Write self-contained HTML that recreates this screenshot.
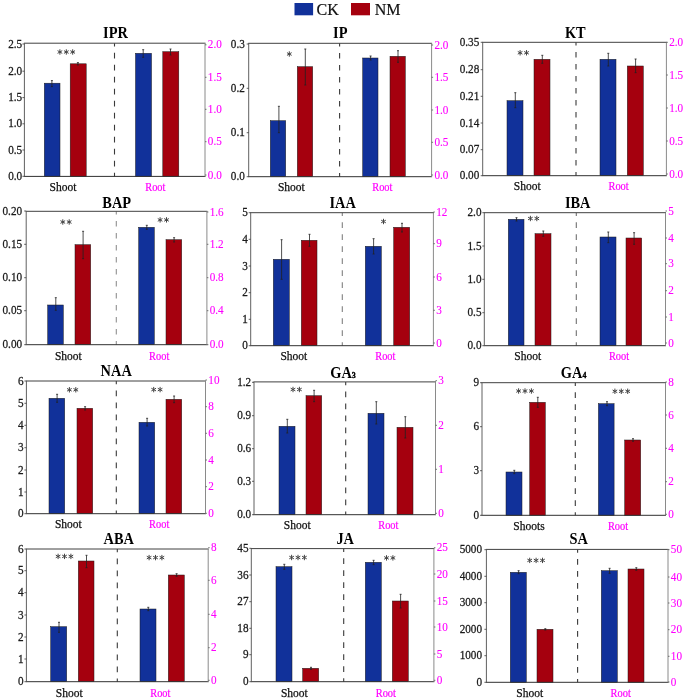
<!DOCTYPE html>
<html><head><meta charset="utf-8"><title>Hormone bar charts</title>
<style>
html,body{margin:0;padding:0;background:#fff;}
body{width:685px;height:700px;overflow:hidden;}
svg{display:block;font-family:"Liberation Serif",serif;will-change:transform;}
.t{font-size:11.2px;fill:#1a1a1a;stroke:#1a1a1a;stroke-width:0.25px;}
.m{font-size:11.2px;fill:#ff00ff;stroke:#ff00ff;stroke-width:0.1px;}
.x{font-size:11.5px;fill:#111;stroke:#111;stroke-width:0.25px;}
.xm{font-size:10.4px;fill:#ff00ff;stroke:#ff00ff;stroke-width:0.2px;}
.h{font-size:14.4px;font-weight:bold;fill:#000;}
.s{font-size:12.5px;fill:#333;}
</style></head><body>
<svg width="685" height="700" viewBox="0 0 685 700">
<rect width="685" height="700" fill="#fff"/>
<rect x="294.5" y="3" width="18.6" height="12.3" fill="#11319a"/>
<text x="316.6" y="14.8" style="font-size:16px;fill:#111;stroke:#111;stroke-width:0.2px">CK</text>
<rect x="351" y="3" width="19" height="12.3" fill="#a5000e"/>
<text x="374.8" y="14.8" style="font-size:16px;fill:#111;stroke:#111;stroke-width:0.2px">NM</text>
<g>
<text class="h" transform="translate(115.5 37.9) scale(1 1.1)" text-anchor="middle">IPR</text>
<rect x="44.3" y="83.2" width="15.7" height="93.2" fill="#11319a" stroke="#1a1a1a" stroke-width="0.5"/>
<rect x="70.2" y="63.8" width="16" height="112.6" fill="#a5000e" stroke="#1a1a1a" stroke-width="0.5"/>
<rect x="135.5" y="53.3" width="16" height="123.1" fill="#11319a" stroke="#1a1a1a" stroke-width="0.5"/>
<rect x="162.8" y="51.7" width="16" height="124.7" fill="#a5000e" stroke="#1a1a1a" stroke-width="0.5"/>
<path d="M51.9 80.6V86.6M50.9 80.6H52.9M50.9 86.6H52.9" stroke="#222" stroke-width="0.8" fill="none"/>
<path d="M77.9 62.6V65M76.9 62.6H78.9M76.9 65H78.9" stroke="#222" stroke-width="0.8" fill="none"/>
<path d="M143.2 49.7V57.3M142.2 49.7H144.2M142.2 57.3H144.2" stroke="#222" stroke-width="0.8" fill="none"/>
<path d="M170.5 49V55M169.5 49H171.5M169.5 55H171.5" stroke="#222" stroke-width="0.8" fill="none"/>
<line x1="114.5" y1="43.2" x2="114.5" y2="176.4" stroke="#3a3a3a" stroke-width="1.1" stroke-dasharray="5.7 6.3" stroke-dashoffset="2.4"/>
<path d="M23.9 43.2H205.5" stroke="#404040" stroke-width="1" fill="none"/>
<path d="M23.9 176.4H205.5" stroke="#303030" stroke-width="1" fill="none"/>
<path d="M24.4 43.2V176.4" stroke="#606060" stroke-width="1" fill="none"/>
<path d="M205 43.2V176.4" stroke="#8a8a8a" stroke-width="1" fill="none"/>
<line x1="22.4" y1="44" x2="24.4" y2="44" stroke="#3a3a3a" stroke-width="0.8"/>
<text class="t" transform="translate(22.2 47.64) scale(1 1.12)" text-anchor="end">2.5</text>
<line x1="22.4" y1="71.2" x2="24.4" y2="71.2" stroke="#3a3a3a" stroke-width="0.8"/>
<text class="t" transform="translate(22.2 74.84) scale(1 1.12)" text-anchor="end">2.0</text>
<line x1="22.4" y1="97.6" x2="24.4" y2="97.6" stroke="#3a3a3a" stroke-width="0.8"/>
<text class="t" transform="translate(22.2 101.24) scale(1 1.12)" text-anchor="end">1.5</text>
<line x1="22.4" y1="123.8" x2="24.4" y2="123.8" stroke="#3a3a3a" stroke-width="0.8"/>
<text class="t" transform="translate(22.2 127.44) scale(1 1.12)" text-anchor="end">1.0</text>
<line x1="22.4" y1="150" x2="24.4" y2="150" stroke="#3a3a3a" stroke-width="0.8"/>
<text class="t" transform="translate(22.2 153.64) scale(1 1.12)" text-anchor="end">0.5</text>
<line x1="22.4" y1="176.3" x2="24.4" y2="176.3" stroke="#3a3a3a" stroke-width="0.8"/>
<text class="t" transform="translate(22.2 179.94) scale(1 1.12)" text-anchor="end">0.0</text>
<line x1="205" y1="44.8" x2="206.5" y2="44.8" stroke="#555" stroke-width="0.8"/>
<text class="m" transform="translate(207.8 48.44) scale(1 1.12)">2.0</text>
<line x1="205" y1="77.3" x2="206.5" y2="77.3" stroke="#555" stroke-width="0.8"/>
<text class="m" transform="translate(207.8 80.94) scale(1 1.12)">1.5</text>
<line x1="205" y1="109.3" x2="206.5" y2="109.3" stroke="#555" stroke-width="0.8"/>
<text class="m" transform="translate(207.8 112.94) scale(1 1.12)">1.0</text>
<line x1="205" y1="141.7" x2="206.5" y2="141.7" stroke="#555" stroke-width="0.8"/>
<text class="m" transform="translate(207.8 145.34) scale(1 1.12)">0.5</text>
<line x1="205" y1="175" x2="206.5" y2="175" stroke="#555" stroke-width="0.8"/>
<text class="m" transform="translate(207.8 178.64) scale(1 1.12)">0.0</text>
<path d="M59.9 49.7V54.3M57.91 50.85L61.89 53.15M57.91 53.15L61.89 50.85M66.3 49.7V54.3M64.31 50.85L68.29 53.15M64.31 53.15L68.29 50.85M72.7 49.7V54.3M70.71 50.85L74.69 53.15M70.71 53.15L74.69 50.85" stroke="#444" stroke-width="1" stroke-linecap="round" fill="none"/>
<text class="x" transform="translate(63 190.8) scale(1 1)" text-anchor="middle">Shoot</text>
<text class="xm" transform="translate(155.3 190.8) scale(1 1.2)" text-anchor="middle">Root</text>
</g>
<g>
<text class="h" transform="translate(340.3 38.3) scale(1 1.1)" text-anchor="middle">IP</text>
<rect x="270.3" y="120.7" width="15.4" height="56" fill="#11319a" stroke="#1a1a1a" stroke-width="0.5"/>
<rect x="297.3" y="66.7" width="15.4" height="110" fill="#a5000e" stroke="#1a1a1a" stroke-width="0.5"/>
<rect x="362.7" y="58" width="15.3" height="118.7" fill="#11319a" stroke="#1a1a1a" stroke-width="0.5"/>
<rect x="390" y="56.3" width="15.3" height="120.4" fill="#a5000e" stroke="#1a1a1a" stroke-width="0.5"/>
<path d="M278.9 106.3V132.7M277.9 106.3H279.9M277.9 132.7H279.9" stroke="#222" stroke-width="0.8" fill="none"/>
<path d="M305.3 49V85M304.3 49H306.3M304.3 85H306.3" stroke="#222" stroke-width="0.8" fill="none"/>
<path d="M370.6 56V60M369.6 56H371.6M369.6 60H371.6" stroke="#222" stroke-width="0.8" fill="none"/>
<path d="M398 50.7V62.3M397 50.7H399M397 62.3H399" stroke="#222" stroke-width="0.8" fill="none"/>
<line x1="339.6" y1="43.3" x2="339.6" y2="176.7" stroke="#3a3a3a" stroke-width="1.1" stroke-dasharray="5.7 6.3" stroke-dashoffset="2.4"/>
<path d="M248.2 43.3H432.1" stroke="#404040" stroke-width="1" fill="none"/>
<path d="M248.2 176.7H432.1" stroke="#303030" stroke-width="1" fill="none"/>
<path d="M248.7 43.3V176.7" stroke="#606060" stroke-width="1" fill="none"/>
<path d="M431.6 43.3V176.7" stroke="#8a8a8a" stroke-width="1" fill="none"/>
<line x1="246.7" y1="44" x2="248.7" y2="44" stroke="#3a3a3a" stroke-width="0.8"/>
<text class="t" transform="translate(244.8 47.64) scale(1 1.12)" text-anchor="end">0.3</text>
<line x1="246.7" y1="88.3" x2="248.7" y2="88.3" stroke="#3a3a3a" stroke-width="0.8"/>
<text class="t" transform="translate(244.8 91.94) scale(1 1.12)" text-anchor="end">0.2</text>
<line x1="246.7" y1="132.7" x2="248.7" y2="132.7" stroke="#3a3a3a" stroke-width="0.8"/>
<text class="t" transform="translate(244.8 136.34) scale(1 1.12)" text-anchor="end">0.1</text>
<line x1="246.7" y1="176.7" x2="248.7" y2="176.7" stroke="#3a3a3a" stroke-width="0.8"/>
<text class="t" transform="translate(244.8 180.34) scale(1 1.12)" text-anchor="end">0.0</text>
<line x1="431.6" y1="45" x2="433.1" y2="45" stroke="#555" stroke-width="0.8"/>
<text class="m" transform="translate(434.4 48.64) scale(1 1.12)">2.0</text>
<line x1="431.6" y1="77.3" x2="433.1" y2="77.3" stroke="#555" stroke-width="0.8"/>
<text class="m" transform="translate(434.4 80.94) scale(1 1.12)">1.5</text>
<line x1="431.6" y1="110" x2="433.1" y2="110" stroke="#555" stroke-width="0.8"/>
<text class="m" transform="translate(434.4 113.64) scale(1 1.12)">1.0</text>
<line x1="431.6" y1="142.3" x2="433.1" y2="142.3" stroke="#555" stroke-width="0.8"/>
<text class="m" transform="translate(434.4 145.94) scale(1 1.12)">0.5</text>
<line x1="431.6" y1="175" x2="433.1" y2="175" stroke="#555" stroke-width="0.8"/>
<text class="m" transform="translate(434.4 178.64) scale(1 1.12)">0.0</text>
<path d="M289.3 51.7V56.3M287.31 52.85L291.29 55.15M287.31 55.15L291.29 52.85" stroke="#444" stroke-width="1" stroke-linecap="round" fill="none"/>
<text class="x" transform="translate(291.3 190.7) scale(1 1)" text-anchor="middle">Shoot</text>
<text class="xm" transform="translate(382.3 190.7) scale(1 1.2)" text-anchor="middle">Root</text>
</g>
<g>
<text class="h" transform="translate(575.3 37.7) scale(1 1.1)" text-anchor="middle">KT</text>
<rect x="507" y="100.7" width="16" height="75" fill="#11319a" stroke="#1a1a1a" stroke-width="0.5"/>
<rect x="534" y="59.3" width="16" height="116.4" fill="#a5000e" stroke="#1a1a1a" stroke-width="0.5"/>
<rect x="600" y="59.3" width="16" height="116.4" fill="#11319a" stroke="#1a1a1a" stroke-width="0.5"/>
<rect x="627.3" y="66" width="16" height="109.7" fill="#a5000e" stroke="#1a1a1a" stroke-width="0.5"/>
<path d="M515.3 92.7V107.7M514.3 92.7H516.3M514.3 107.7H516.3" stroke="#222" stroke-width="0.8" fill="none"/>
<path d="M542.3 55.3V63.3M541.3 55.3H543.3M541.3 63.3H543.3" stroke="#222" stroke-width="0.8" fill="none"/>
<path d="M608.3 53.3V66M607.3 53.3H609.3M607.3 66H609.3" stroke="#222" stroke-width="0.8" fill="none"/>
<path d="M635.6 59V72.7M634.6 59H636.6M634.6 72.7H636.6" stroke="#222" stroke-width="0.8" fill="none"/>
<line x1="576" y1="42.3" x2="576" y2="175.7" stroke="#3a3a3a" stroke-width="1.1" stroke-dasharray="5.7 6.3" stroke-dashoffset="2.4"/>
<path d="M482.2 42.3H666.9" stroke="#404040" stroke-width="1" fill="none"/>
<path d="M482.2 175.7H666.9" stroke="#303030" stroke-width="1" fill="none"/>
<path d="M482.7 42.3V175.7" stroke="#606060" stroke-width="1" fill="none"/>
<path d="M666.4 42.3V175.7" stroke="#8a8a8a" stroke-width="1" fill="none"/>
<line x1="480.7" y1="42.3" x2="482.7" y2="42.3" stroke="#3a3a3a" stroke-width="0.8"/>
<text class="t" transform="translate(479.3 45.94) scale(1 1.12)" text-anchor="end">0.35</text>
<line x1="480.7" y1="69.7" x2="482.7" y2="69.7" stroke="#3a3a3a" stroke-width="0.8"/>
<text class="t" transform="translate(479.3 73.34) scale(1 1.12)" text-anchor="end">0.28</text>
<line x1="480.7" y1="96.3" x2="482.7" y2="96.3" stroke="#3a3a3a" stroke-width="0.8"/>
<text class="t" transform="translate(479.3 99.94) scale(1 1.12)" text-anchor="end">0.21</text>
<line x1="480.7" y1="123" x2="482.7" y2="123" stroke="#3a3a3a" stroke-width="0.8"/>
<text class="t" transform="translate(479.3 126.64) scale(1 1.12)" text-anchor="end">0.14</text>
<line x1="480.7" y1="149.7" x2="482.7" y2="149.7" stroke="#3a3a3a" stroke-width="0.8"/>
<text class="t" transform="translate(479.3 153.34) scale(1 1.12)" text-anchor="end">0.07</text>
<line x1="480.7" y1="175.7" x2="482.7" y2="175.7" stroke="#3a3a3a" stroke-width="0.8"/>
<text class="t" transform="translate(479.3 179.34) scale(1 1.12)" text-anchor="end">0.00</text>
<line x1="666.4" y1="42.3" x2="667.9" y2="42.3" stroke="#555" stroke-width="0.8"/>
<text class="m" transform="translate(669.2 45.94) scale(1 1.12)">2.0</text>
<line x1="666.4" y1="75" x2="667.9" y2="75" stroke="#555" stroke-width="0.8"/>
<text class="m" transform="translate(669.2 78.64) scale(1 1.12)">1.5</text>
<line x1="666.4" y1="108" x2="667.9" y2="108" stroke="#555" stroke-width="0.8"/>
<text class="m" transform="translate(669.2 111.64) scale(1 1.12)">1.0</text>
<line x1="666.4" y1="141" x2="667.9" y2="141" stroke="#555" stroke-width="0.8"/>
<text class="m" transform="translate(669.2 144.64) scale(1 1.12)">0.5</text>
<line x1="666.4" y1="174" x2="667.9" y2="174" stroke="#555" stroke-width="0.8"/>
<text class="m" transform="translate(669.2 177.64) scale(1 1.12)">0.0</text>
<path d="M520.1 50.5V55.1M518.11 51.65L522.09 53.95M518.11 53.95L522.09 51.65M526.5 50.5V55.1M524.51 51.65L528.49 53.95M524.51 53.95L528.49 51.65" stroke="#444" stroke-width="1" stroke-linecap="round" fill="none"/>
<text class="x" transform="translate(527.2 189.9) scale(1 1)" text-anchor="middle">Shoot</text>
<text class="xm" transform="translate(618.6 189.9) scale(1 1.2)" text-anchor="middle">Root</text>
</g>
<g>
<text class="h" transform="translate(116.7 208) scale(1 1.1)" text-anchor="middle">BAP</text>
<rect x="47.7" y="305" width="15.6" height="39.7" fill="#11319a" stroke="#1a1a1a" stroke-width="0.5"/>
<rect x="75" y="244.7" width="15.7" height="100" fill="#a5000e" stroke="#1a1a1a" stroke-width="0.5"/>
<rect x="138.7" y="227.3" width="15.6" height="117.4" fill="#11319a" stroke="#1a1a1a" stroke-width="0.5"/>
<rect x="166" y="239.7" width="15.7" height="105" fill="#a5000e" stroke="#1a1a1a" stroke-width="0.5"/>
<path d="M55.8 297.7V310.3M54.8 297.7H56.8M54.8 310.3H56.8" stroke="#222" stroke-width="0.8" fill="none"/>
<path d="M83.1 231.3V258.7M82.1 231.3H84.1M82.1 258.7H84.1" stroke="#222" stroke-width="0.8" fill="none"/>
<path d="M146.8 225.3V229.3M145.8 225.3H147.8M145.8 229.3H147.8" stroke="#222" stroke-width="0.8" fill="none"/>
<path d="M174.1 237.7V242M173.1 237.7H175.1M173.1 242H175.1" stroke="#222" stroke-width="0.8" fill="none"/>
<line x1="116.3" y1="211.3" x2="116.3" y2="344.7" stroke="#909090" stroke-width="1.1" stroke-dasharray="5.7 6.3" stroke-dashoffset="2.4"/>
<path d="M25.7 211.3H207.4" stroke="#404040" stroke-width="1" fill="none"/>
<path d="M25.7 344.7H207.4" stroke="#303030" stroke-width="1" fill="none"/>
<path d="M26.2 211.3V344.7" stroke="#606060" stroke-width="1" fill="none"/>
<path d="M206.9 211.3V344.7" stroke="#8a8a8a" stroke-width="1" fill="none"/>
<line x1="24.2" y1="211" x2="26.2" y2="211" stroke="#3a3a3a" stroke-width="0.8"/>
<text class="t" transform="translate(22.1 214.64) scale(1 1.12)" text-anchor="end">0.20</text>
<line x1="24.2" y1="244.3" x2="26.2" y2="244.3" stroke="#3a3a3a" stroke-width="0.8"/>
<text class="t" transform="translate(22.1 247.94) scale(1 1.12)" text-anchor="end">0.15</text>
<line x1="24.2" y1="277.7" x2="26.2" y2="277.7" stroke="#3a3a3a" stroke-width="0.8"/>
<text class="t" transform="translate(22.1 281.34) scale(1 1.12)" text-anchor="end">0.10</text>
<line x1="24.2" y1="310.7" x2="26.2" y2="310.7" stroke="#3a3a3a" stroke-width="0.8"/>
<text class="t" transform="translate(22.1 314.34) scale(1 1.12)" text-anchor="end">0.05</text>
<line x1="24.2" y1="344.7" x2="26.2" y2="344.7" stroke="#3a3a3a" stroke-width="0.8"/>
<text class="t" transform="translate(22.1 348.34) scale(1 1.12)" text-anchor="end">0.00</text>
<line x1="206.9" y1="212" x2="208.4" y2="212" stroke="#555" stroke-width="0.8"/>
<text class="m" transform="translate(209.7 215.64) scale(1 1.12)">1.6</text>
<line x1="206.9" y1="244.3" x2="208.4" y2="244.3" stroke="#555" stroke-width="0.8"/>
<text class="m" transform="translate(209.7 247.94) scale(1 1.12)">1.2</text>
<line x1="206.9" y1="277.7" x2="208.4" y2="277.7" stroke="#555" stroke-width="0.8"/>
<text class="m" transform="translate(209.7 281.34) scale(1 1.12)">0.8</text>
<line x1="206.9" y1="310.7" x2="208.4" y2="310.7" stroke="#555" stroke-width="0.8"/>
<text class="m" transform="translate(209.7 314.34) scale(1 1.12)">0.4</text>
<line x1="206.9" y1="344.7" x2="208.4" y2="344.7" stroke="#555" stroke-width="0.8"/>
<text class="m" transform="translate(209.7 348.34) scale(1 1.12)">0.0</text>
<path d="M62.8 219.7V224.3M60.81 220.85L64.79 223.15M60.81 223.15L64.79 220.85M69.2 219.7V224.3M67.21 220.85L71.19 223.15M67.21 223.15L71.19 220.85" stroke="#444" stroke-width="1" stroke-linecap="round" fill="none"/>
<path d="M160.1 217.6V222.2M158.11 218.75L162.09 221.05M158.11 221.05L162.09 218.75M166.5 217.6V222.2M164.51 218.75L168.49 221.05M164.51 221.05L168.49 218.75" stroke="#444" stroke-width="1" stroke-linecap="round" fill="none"/>
<text class="x" transform="translate(68.3 359.7) scale(1 1)" text-anchor="middle">Shoot</text>
<text class="xm" transform="translate(159.2 359.7) scale(1 1.2)" text-anchor="middle">Root</text>
</g>
<g>
<text class="h" transform="translate(342.6 208) scale(1 1.1)" text-anchor="middle">IAA</text>
<rect x="273.3" y="259.3" width="16" height="86.4" fill="#11319a" stroke="#1a1a1a" stroke-width="0.5"/>
<rect x="301.3" y="240.3" width="15.7" height="105.4" fill="#a5000e" stroke="#1a1a1a" stroke-width="0.5"/>
<rect x="365.3" y="246.3" width="16" height="99.4" fill="#11319a" stroke="#1a1a1a" stroke-width="0.5"/>
<rect x="393.7" y="227.3" width="16" height="118.4" fill="#a5000e" stroke="#1a1a1a" stroke-width="0.5"/>
<path d="M281.6 239.7V279.3M280.6 239.7H282.6M280.6 279.3H282.6" stroke="#222" stroke-width="0.8" fill="none"/>
<path d="M309.5 234.3V246.3M308.5 234.3H310.5M308.5 246.3H310.5" stroke="#222" stroke-width="0.8" fill="none"/>
<path d="M373.6 238.7V254M372.6 238.7H374.6M372.6 254H374.6" stroke="#222" stroke-width="0.8" fill="none"/>
<path d="M402 223.3V232M401 223.3H403M401 232H403" stroke="#222" stroke-width="0.8" fill="none"/>
<line x1="342.3" y1="212.7" x2="342.3" y2="345.7" stroke="#808080" stroke-width="1.1" stroke-dasharray="5.7 6.3" stroke-dashoffset="2.4"/>
<path d="M250.2 212.7H433.9" stroke="#404040" stroke-width="1" fill="none"/>
<path d="M250.2 345.7H433.9" stroke="#303030" stroke-width="1" fill="none"/>
<path d="M250.7 212.7V345.7" stroke="#606060" stroke-width="1" fill="none"/>
<path d="M433.4 212.7V345.7" stroke="#8a8a8a" stroke-width="1" fill="none"/>
<line x1="248.7" y1="212.7" x2="250.7" y2="212.7" stroke="#3a3a3a" stroke-width="0.8"/>
<text class="t" transform="translate(247.9 216.34) scale(1 1.12)" text-anchor="end">5</text>
<line x1="248.7" y1="239.3" x2="250.7" y2="239.3" stroke="#3a3a3a" stroke-width="0.8"/>
<text class="t" transform="translate(247.9 242.94) scale(1 1.12)" text-anchor="end">4</text>
<line x1="248.7" y1="266" x2="250.7" y2="266" stroke="#3a3a3a" stroke-width="0.8"/>
<text class="t" transform="translate(247.9 269.64) scale(1 1.12)" text-anchor="end">3</text>
<line x1="248.7" y1="292.7" x2="250.7" y2="292.7" stroke="#3a3a3a" stroke-width="0.8"/>
<text class="t" transform="translate(247.9 296.34) scale(1 1.12)" text-anchor="end">2</text>
<line x1="248.7" y1="319.3" x2="250.7" y2="319.3" stroke="#3a3a3a" stroke-width="0.8"/>
<text class="t" transform="translate(247.9 322.94) scale(1 1.12)" text-anchor="end">1</text>
<line x1="248.7" y1="345.7" x2="250.7" y2="345.7" stroke="#3a3a3a" stroke-width="0.8"/>
<text class="t" transform="translate(247.9 349.34) scale(1 1.12)" text-anchor="end">0</text>
<line x1="433.4" y1="212" x2="434.9" y2="212" stroke="#555" stroke-width="0.8"/>
<text class="m" transform="translate(436.2 215.64) scale(1 1.12)">12</text>
<line x1="433.4" y1="243.7" x2="434.9" y2="243.7" stroke="#555" stroke-width="0.8"/>
<text class="m" transform="translate(436.2 247.34) scale(1 1.12)">9</text>
<line x1="433.4" y1="277" x2="434.9" y2="277" stroke="#555" stroke-width="0.8"/>
<text class="m" transform="translate(436.2 280.64) scale(1 1.12)">6</text>
<line x1="433.4" y1="310.3" x2="434.9" y2="310.3" stroke="#555" stroke-width="0.8"/>
<text class="m" transform="translate(436.2 313.94) scale(1 1.12)">3</text>
<line x1="433.4" y1="343" x2="434.9" y2="343" stroke="#555" stroke-width="0.8"/>
<text class="m" transform="translate(436.2 346.64) scale(1 1.12)">0</text>
<path d="M383.5 219.2V223.8M381.51 220.35L385.49 222.65M381.51 222.65L385.49 220.35" stroke="#444" stroke-width="1" stroke-linecap="round" fill="none"/>
<text class="x" transform="translate(293.8 359.7) scale(1 1)" text-anchor="middle">Shoot</text>
<text class="xm" transform="translate(385.3 359.7) scale(1 1.2)" text-anchor="middle">Root</text>
</g>
<g>
<text class="h" transform="translate(577.7 208) scale(1 1.1)" text-anchor="middle">IBA</text>
<rect x="508.3" y="219.3" width="15.7" height="126.4" fill="#11319a" stroke="#1a1a1a" stroke-width="0.5"/>
<rect x="535" y="233.7" width="16" height="112" fill="#a5000e" stroke="#1a1a1a" stroke-width="0.5"/>
<rect x="600" y="237" width="16" height="108.7" fill="#11319a" stroke="#1a1a1a" stroke-width="0.5"/>
<rect x="626" y="238" width="15.7" height="107.7" fill="#a5000e" stroke="#1a1a1a" stroke-width="0.5"/>
<path d="M516.5 217.7V221M515.5 217.7H517.5M515.5 221H517.5" stroke="#222" stroke-width="0.8" fill="none"/>
<path d="M543.3 231V236.3M542.3 231H544.3M542.3 236.3H544.3" stroke="#222" stroke-width="0.8" fill="none"/>
<path d="M608.3 232V242.7M607.3 232H609.3M607.3 242.7H609.3" stroke="#222" stroke-width="0.8" fill="none"/>
<path d="M634.1 232.7V244.3M633.1 232.7H635.1M633.1 244.3H635.1" stroke="#222" stroke-width="0.8" fill="none"/>
<line x1="576.3" y1="212.7" x2="576.3" y2="345.7" stroke="#707070" stroke-width="1.1" stroke-dasharray="5.7 6.3" stroke-dashoffset="2.4"/>
<path d="M483.8 212.7H666" stroke="#404040" stroke-width="1" fill="none"/>
<path d="M483.8 345.7H666" stroke="#303030" stroke-width="1" fill="none"/>
<path d="M484.3 212.7V345.7" stroke="#606060" stroke-width="1" fill="none"/>
<path d="M665.5 212.7V345.7" stroke="#8a8a8a" stroke-width="1" fill="none"/>
<line x1="482.3" y1="212.7" x2="484.3" y2="212.7" stroke="#3a3a3a" stroke-width="0.8"/>
<text class="t" transform="translate(481.5 216.34) scale(1 1.12)" text-anchor="end">2.0</text>
<line x1="482.3" y1="246" x2="484.3" y2="246" stroke="#3a3a3a" stroke-width="0.8"/>
<text class="t" transform="translate(481.5 249.64) scale(1 1.12)" text-anchor="end">1.5</text>
<line x1="482.3" y1="279.3" x2="484.3" y2="279.3" stroke="#3a3a3a" stroke-width="0.8"/>
<text class="t" transform="translate(481.5 282.94) scale(1 1.12)" text-anchor="end">1.0</text>
<line x1="482.3" y1="312.7" x2="484.3" y2="312.7" stroke="#3a3a3a" stroke-width="0.8"/>
<text class="t" transform="translate(481.5 316.34) scale(1 1.12)" text-anchor="end">0.5</text>
<line x1="482.3" y1="345.7" x2="484.3" y2="345.7" stroke="#3a3a3a" stroke-width="0.8"/>
<text class="t" transform="translate(481.5 349.34) scale(1 1.12)" text-anchor="end">0.0</text>
<line x1="665.5" y1="211" x2="667" y2="211" stroke="#555" stroke-width="0.8"/>
<text class="m" transform="translate(668.3 214.64) scale(1 1.12)">5</text>
<line x1="665.5" y1="238" x2="667" y2="238" stroke="#555" stroke-width="0.8"/>
<text class="m" transform="translate(668.3 241.64) scale(1 1.12)">4</text>
<line x1="665.5" y1="263.7" x2="667" y2="263.7" stroke="#555" stroke-width="0.8"/>
<text class="m" transform="translate(668.3 267.34) scale(1 1.12)">3</text>
<line x1="665.5" y1="290.7" x2="667" y2="290.7" stroke="#555" stroke-width="0.8"/>
<text class="m" transform="translate(668.3 294.34) scale(1 1.12)">2</text>
<line x1="665.5" y1="317" x2="667" y2="317" stroke="#555" stroke-width="0.8"/>
<text class="m" transform="translate(668.3 320.64) scale(1 1.12)">1</text>
<line x1="665.5" y1="343" x2="667" y2="343" stroke="#555" stroke-width="0.8"/>
<text class="m" transform="translate(668.3 346.64) scale(1 1.12)">0</text>
<path d="M530.4 216.2V220.8M528.41 217.35L532.39 219.65M528.41 219.65L532.39 217.35M536.8 216.2V220.8M534.81 217.35L538.79 219.65M534.81 219.65L538.79 217.35" stroke="#444" stroke-width="1" stroke-linecap="round" fill="none"/>
<text class="x" transform="translate(527.7 359.7) scale(1 1)" text-anchor="middle">Shoot</text>
<text class="xm" transform="translate(619 359.7) scale(1 1.2)" text-anchor="middle">Root</text>
</g>
<g>
<text class="h" transform="translate(116.2 376) scale(1 1.1)" text-anchor="middle">NAA</text>
<rect x="49" y="398.3" width="15.7" height="115.4" fill="#11319a" stroke="#1a1a1a" stroke-width="0.5"/>
<rect x="77" y="408.3" width="15.7" height="105.4" fill="#a5000e" stroke="#1a1a1a" stroke-width="0.5"/>
<rect x="139" y="422.3" width="15.7" height="91.4" fill="#11319a" stroke="#1a1a1a" stroke-width="0.5"/>
<rect x="166" y="399.3" width="15.7" height="114.4" fill="#a5000e" stroke="#1a1a1a" stroke-width="0.5"/>
<path d="M57.1 394.3V402.3M56.1 394.3H58.1M56.1 402.3H58.1" stroke="#222" stroke-width="0.8" fill="none"/>
<path d="M85.1 406.7V410M84.1 406.7H86.1M84.1 410H86.1" stroke="#222" stroke-width="0.8" fill="none"/>
<path d="M147.1 418.3V426M146.1 418.3H148.1M146.1 426H148.1" stroke="#222" stroke-width="0.8" fill="none"/>
<path d="M174.1 396V402.7M173.1 396H175.1M173.1 402.7H175.1" stroke="#222" stroke-width="0.8" fill="none"/>
<line x1="116.3" y1="381" x2="116.3" y2="513.7" stroke="#3a3a3a" stroke-width="1.1" stroke-dasharray="5.7 6.3" stroke-dashoffset="2.4"/>
<path d="M25.9 381H206" stroke="#404040" stroke-width="1" fill="none"/>
<path d="M25.9 513.7H206" stroke="#303030" stroke-width="1" fill="none"/>
<path d="M26.4 381V513.7" stroke="#606060" stroke-width="1" fill="none"/>
<path d="M205.5 381V513.7" stroke="#8a8a8a" stroke-width="1" fill="none"/>
<line x1="24.4" y1="381" x2="26.4" y2="381" stroke="#3a3a3a" stroke-width="0.8"/>
<text class="t" transform="translate(23.6 384.64) scale(1 1.12)" text-anchor="end">6</text>
<line x1="24.4" y1="403.3" x2="26.4" y2="403.3" stroke="#3a3a3a" stroke-width="0.8"/>
<text class="t" transform="translate(23.6 406.94) scale(1 1.12)" text-anchor="end">5</text>
<line x1="24.4" y1="425.3" x2="26.4" y2="425.3" stroke="#3a3a3a" stroke-width="0.8"/>
<text class="t" transform="translate(23.6 428.94) scale(1 1.12)" text-anchor="end">4</text>
<line x1="24.4" y1="447.7" x2="26.4" y2="447.7" stroke="#3a3a3a" stroke-width="0.8"/>
<text class="t" transform="translate(23.6 451.34) scale(1 1.12)" text-anchor="end">3</text>
<line x1="24.4" y1="470" x2="26.4" y2="470" stroke="#3a3a3a" stroke-width="0.8"/>
<text class="t" transform="translate(23.6 473.64) scale(1 1.12)" text-anchor="end">2</text>
<line x1="24.4" y1="492" x2="26.4" y2="492" stroke="#3a3a3a" stroke-width="0.8"/>
<text class="t" transform="translate(23.6 495.64) scale(1 1.12)" text-anchor="end">1</text>
<line x1="24.4" y1="513.7" x2="26.4" y2="513.7" stroke="#3a3a3a" stroke-width="0.8"/>
<text class="t" transform="translate(23.6 517.34) scale(1 1.12)" text-anchor="end">0</text>
<line x1="205.5" y1="380" x2="207" y2="380" stroke="#555" stroke-width="0.8"/>
<text class="m" transform="translate(208.3 383.64) scale(1 1.12)">10</text>
<line x1="205.5" y1="406.7" x2="207" y2="406.7" stroke="#555" stroke-width="0.8"/>
<text class="m" transform="translate(208.3 410.34) scale(1 1.12)">8</text>
<line x1="205.5" y1="433.3" x2="207" y2="433.3" stroke="#555" stroke-width="0.8"/>
<text class="m" transform="translate(208.3 436.94) scale(1 1.12)">6</text>
<line x1="205.5" y1="460" x2="207" y2="460" stroke="#555" stroke-width="0.8"/>
<text class="m" transform="translate(208.3 463.64) scale(1 1.12)">4</text>
<line x1="205.5" y1="486.7" x2="207" y2="486.7" stroke="#555" stroke-width="0.8"/>
<text class="m" transform="translate(208.3 490.34) scale(1 1.12)">2</text>
<line x1="205.5" y1="513.3" x2="207" y2="513.3" stroke="#555" stroke-width="0.8"/>
<text class="m" transform="translate(208.3 516.94) scale(1 1.12)">0</text>
<path d="M69.4 387.5V392.1M67.41 388.65L71.39 390.95M67.41 390.95L71.39 388.65M75.8 387.5V392.1M73.81 388.65L77.79 390.95M73.81 390.95L77.79 388.65" stroke="#444" stroke-width="1" stroke-linecap="round" fill="none"/>
<path d="M153.7 387.3V391.9M151.71 388.45L155.69 390.75M151.71 390.75L155.69 388.45M160.1 387.3V391.9M158.11 388.45L162.09 390.75M158.11 390.75L162.09 388.45" stroke="#444" stroke-width="1" stroke-linecap="round" fill="none"/>
<text class="x" transform="translate(68.3 528.2) scale(1 1)" text-anchor="middle">Shoot</text>
<text class="xm" transform="translate(159.2 528.2) scale(1 1.2)" text-anchor="middle">Root</text>
</g>
<g>
<text class="h" transform="translate(343 377.8) scale(1 1.1)" text-anchor="middle">GA<tspan style="font-size:8px;stroke:#000;stroke-width:0.35px">3</tspan></text>
<rect x="279" y="426.3" width="16" height="88.4" fill="#11319a" stroke="#1a1a1a" stroke-width="0.5"/>
<rect x="306" y="395.7" width="15.7" height="119" fill="#a5000e" stroke="#1a1a1a" stroke-width="0.5"/>
<rect x="368" y="413.3" width="16" height="101.4" fill="#11319a" stroke="#1a1a1a" stroke-width="0.5"/>
<rect x="397" y="427.3" width="16" height="87.4" fill="#a5000e" stroke="#1a1a1a" stroke-width="0.5"/>
<path d="M287.3 419.3V433M286.3 419.3H288.3M286.3 433H288.3" stroke="#222" stroke-width="0.8" fill="none"/>
<path d="M314.1 390.3V401.7M313.1 390.3H315.1M313.1 401.7H315.1" stroke="#222" stroke-width="0.8" fill="none"/>
<path d="M376.3 401.7V424M375.3 401.7H377.3M375.3 424H377.3" stroke="#222" stroke-width="0.8" fill="none"/>
<path d="M405.3 416.7V438M404.3 416.7H406.3M404.3 438H406.3" stroke="#222" stroke-width="0.8" fill="none"/>
<line x1="345.7" y1="381.9" x2="345.7" y2="514.7" stroke="#3a3a3a" stroke-width="1.1" stroke-dasharray="5.7 6.3" stroke-dashoffset="2.4"/>
<path d="M253.5 381.9H436" stroke="#404040" stroke-width="1" fill="none"/>
<path d="M253.5 514.7H436" stroke="#303030" stroke-width="1" fill="none"/>
<path d="M254 381.9V514.7" stroke="#606060" stroke-width="1" fill="none"/>
<path d="M435.5 381.9V514.7" stroke="#8a8a8a" stroke-width="1" fill="none"/>
<line x1="252" y1="382.3" x2="254" y2="382.3" stroke="#3a3a3a" stroke-width="0.8"/>
<text class="t" transform="translate(251.2 385.94) scale(1 1.12)" text-anchor="end">1.2</text>
<line x1="252" y1="415.7" x2="254" y2="415.7" stroke="#3a3a3a" stroke-width="0.8"/>
<text class="t" transform="translate(251.2 419.34) scale(1 1.12)" text-anchor="end">0.9</text>
<line x1="252" y1="448.7" x2="254" y2="448.7" stroke="#3a3a3a" stroke-width="0.8"/>
<text class="t" transform="translate(251.2 452.34) scale(1 1.12)" text-anchor="end">0.6</text>
<line x1="252" y1="481.3" x2="254" y2="481.3" stroke="#3a3a3a" stroke-width="0.8"/>
<text class="t" transform="translate(251.2 484.94) scale(1 1.12)" text-anchor="end">0.3</text>
<line x1="252" y1="514.7" x2="254" y2="514.7" stroke="#3a3a3a" stroke-width="0.8"/>
<text class="t" transform="translate(251.2 518.34) scale(1 1.12)" text-anchor="end">0.0</text>
<line x1="435.5" y1="380.7" x2="437" y2="380.7" stroke="#555" stroke-width="0.8"/>
<text class="m" transform="translate(438.3 384.34) scale(1 1.12)">3</text>
<line x1="435.5" y1="425.3" x2="437" y2="425.3" stroke="#555" stroke-width="0.8"/>
<text class="m" transform="translate(438.3 428.94) scale(1 1.12)">2</text>
<line x1="435.5" y1="469.3" x2="437" y2="469.3" stroke="#555" stroke-width="0.8"/>
<text class="m" transform="translate(438.3 472.94) scale(1 1.12)">1</text>
<line x1="435.5" y1="513.3" x2="437" y2="513.3" stroke="#555" stroke-width="0.8"/>
<text class="m" transform="translate(438.3 516.94) scale(1 1.12)">0</text>
<path d="M293 387.2V391.8M291.01 388.35L294.99 390.65M291.01 390.65L294.99 388.35M299.4 387.2V391.8M297.41 388.35L301.39 390.65M297.41 390.65L301.39 388.35" stroke="#444" stroke-width="1" stroke-linecap="round" fill="none"/>
<text class="x" transform="translate(297.2 529.4) scale(1 1)" text-anchor="middle">Shoot</text>
<text class="xm" transform="translate(388.3 529.4) scale(1 1.2)" text-anchor="middle">Root</text>
</g>
<g>
<text class="h" transform="translate(573.6 377.8) scale(1 1.1)" text-anchor="middle">GA<tspan style="font-size:8px;stroke:#000;stroke-width:0.35px">4</tspan></text>
<rect x="506" y="472" width="16" height="43.3" fill="#11319a" stroke="#1a1a1a" stroke-width="0.5"/>
<rect x="529.7" y="402.3" width="15.6" height="113" fill="#a5000e" stroke="#1a1a1a" stroke-width="0.5"/>
<rect x="598.4" y="403.7" width="15.7" height="111.6" fill="#11319a" stroke="#1a1a1a" stroke-width="0.5"/>
<rect x="624.7" y="440" width="16" height="75.3" fill="#a5000e" stroke="#1a1a1a" stroke-width="0.5"/>
<path d="M514.3 470.3V473.7M513.3 470.3H515.3M513.3 473.7H515.3" stroke="#222" stroke-width="0.8" fill="none"/>
<path d="M537.8 397.3V407.3M536.8 397.3H538.8M536.8 407.3H538.8" stroke="#222" stroke-width="0.8" fill="none"/>
<path d="M607 401.7V405.7M606 401.7H608M606 405.7H608" stroke="#222" stroke-width="0.8" fill="none"/>
<path d="M633 438.7V441.3M632 438.7H634M632 441.3H634" stroke="#222" stroke-width="0.8" fill="none"/>
<line x1="575.3" y1="382.7" x2="575.3" y2="515.3" stroke="#3a3a3a" stroke-width="1.1" stroke-dasharray="5.7 6.3" stroke-dashoffset="2.4"/>
<path d="M481.5 382.7H666" stroke="#404040" stroke-width="1" fill="none"/>
<path d="M481.5 515.3H666" stroke="#303030" stroke-width="1" fill="none"/>
<path d="M482 382.7V515.3" stroke="#606060" stroke-width="1" fill="none"/>
<path d="M665.5 382.7V515.3" stroke="#8a8a8a" stroke-width="1" fill="none"/>
<line x1="480" y1="382.7" x2="482" y2="382.7" stroke="#3a3a3a" stroke-width="0.8"/>
<text class="t" transform="translate(479.2 386.34) scale(1 1.12)" text-anchor="end">9</text>
<line x1="480" y1="426.7" x2="482" y2="426.7" stroke="#3a3a3a" stroke-width="0.8"/>
<text class="t" transform="translate(479.2 430.34) scale(1 1.12)" text-anchor="end">6</text>
<line x1="480" y1="470.7" x2="482" y2="470.7" stroke="#3a3a3a" stroke-width="0.8"/>
<text class="t" transform="translate(479.2 474.34) scale(1 1.12)" text-anchor="end">3</text>
<line x1="480" y1="515.3" x2="482" y2="515.3" stroke="#3a3a3a" stroke-width="0.8"/>
<text class="t" transform="translate(479.2 518.94) scale(1 1.12)" text-anchor="end">0</text>
<line x1="665.5" y1="382" x2="667" y2="382" stroke="#555" stroke-width="0.8"/>
<text class="m" transform="translate(668.3 385.64) scale(1 1.12)">8</text>
<line x1="665.5" y1="415" x2="667" y2="415" stroke="#555" stroke-width="0.8"/>
<text class="m" transform="translate(668.3 418.64) scale(1 1.12)">6</text>
<line x1="665.5" y1="448.3" x2="667" y2="448.3" stroke="#555" stroke-width="0.8"/>
<text class="m" transform="translate(668.3 451.94) scale(1 1.12)">4</text>
<line x1="665.5" y1="481.7" x2="667" y2="481.7" stroke="#555" stroke-width="0.8"/>
<text class="m" transform="translate(668.3 485.34) scale(1 1.12)">2</text>
<line x1="665.5" y1="514.3" x2="667" y2="514.3" stroke="#555" stroke-width="0.8"/>
<text class="m" transform="translate(668.3 517.94) scale(1 1.12)">0</text>
<path d="M518.6 388.7V393.3M516.61 389.85L520.59 392.15M516.61 392.15L520.59 389.85M525 388.7V393.3M523.01 389.85L526.99 392.15M523.01 392.15L526.99 389.85M531.4 388.7V393.3M529.41 389.85L533.39 392.15M529.41 392.15L533.39 389.85" stroke="#444" stroke-width="1" stroke-linecap="round" fill="none"/>
<path d="M614.9 389V393.6M612.91 390.15L616.89 392.45M612.91 392.45L616.89 390.15M621.3 389V393.6M619.31 390.15L623.29 392.45M619.31 392.45L623.29 390.15M627.7 389V393.6M625.71 390.15L629.69 392.45M625.71 392.45L629.69 390.15" stroke="#444" stroke-width="1" stroke-linecap="round" fill="none"/>
<text class="x" transform="translate(529 530) scale(1 1)" text-anchor="middle">Shoots</text>
<text class="xm" transform="translate(618 530) scale(1 1.2)" text-anchor="middle">Root</text>
</g>
<g>
<text class="h" transform="translate(118.7 543.7) scale(1 1.1)" text-anchor="middle">ABA</text>
<rect x="50.7" y="626.7" width="16" height="55" fill="#11319a" stroke="#1a1a1a" stroke-width="0.5"/>
<rect x="78.3" y="561" width="15.7" height="120.7" fill="#a5000e" stroke="#1a1a1a" stroke-width="0.5"/>
<rect x="140" y="609" width="16" height="72.7" fill="#11319a" stroke="#1a1a1a" stroke-width="0.5"/>
<rect x="168.3" y="575" width="16" height="106.7" fill="#a5000e" stroke="#1a1a1a" stroke-width="0.5"/>
<path d="M59 622.3V632.3M58 622.3H60M58 632.3H60" stroke="#222" stroke-width="0.8" fill="none"/>
<path d="M86.5 555.3V567.7M85.5 555.3H87.5M85.5 567.7H87.5" stroke="#222" stroke-width="0.8" fill="none"/>
<path d="M148.3 607.3V610.7M147.3 607.3H149.3M147.3 610.7H149.3" stroke="#222" stroke-width="0.8" fill="none"/>
<path d="M176.6 573.7V576.3M175.6 573.7H177.6M175.6 576.3H177.6" stroke="#222" stroke-width="0.8" fill="none"/>
<line x1="117.3" y1="549" x2="117.3" y2="681.7" stroke="#3a3a3a" stroke-width="1.1" stroke-dasharray="5.7 6.3" stroke-dashoffset="2.4"/>
<path d="M25.9 549H208.7" stroke="#404040" stroke-width="1" fill="none"/>
<path d="M25.9 681.7H208.7" stroke="#303030" stroke-width="1" fill="none"/>
<path d="M26.4 549V681.7" stroke="#606060" stroke-width="1" fill="none"/>
<path d="M208.2 549V681.7" stroke="#8a8a8a" stroke-width="1" fill="none"/>
<line x1="24.4" y1="549" x2="26.4" y2="549" stroke="#3a3a3a" stroke-width="0.8"/>
<text class="t" transform="translate(23.6 552.64) scale(1 1.12)" text-anchor="end">6</text>
<line x1="24.4" y1="570.7" x2="26.4" y2="570.7" stroke="#3a3a3a" stroke-width="0.8"/>
<text class="t" transform="translate(23.6 574.34) scale(1 1.12)" text-anchor="end">5</text>
<line x1="24.4" y1="592.7" x2="26.4" y2="592.7" stroke="#3a3a3a" stroke-width="0.8"/>
<text class="t" transform="translate(23.6 596.34) scale(1 1.12)" text-anchor="end">4</text>
<line x1="24.4" y1="615" x2="26.4" y2="615" stroke="#3a3a3a" stroke-width="0.8"/>
<text class="t" transform="translate(23.6 618.64) scale(1 1.12)" text-anchor="end">3</text>
<line x1="24.4" y1="637" x2="26.4" y2="637" stroke="#3a3a3a" stroke-width="0.8"/>
<text class="t" transform="translate(23.6 640.64) scale(1 1.12)" text-anchor="end">2</text>
<line x1="24.4" y1="659" x2="26.4" y2="659" stroke="#3a3a3a" stroke-width="0.8"/>
<text class="t" transform="translate(23.6 662.64) scale(1 1.12)" text-anchor="end">1</text>
<line x1="24.4" y1="681.7" x2="26.4" y2="681.7" stroke="#3a3a3a" stroke-width="0.8"/>
<text class="t" transform="translate(23.6 685.34) scale(1 1.12)" text-anchor="end">0</text>
<line x1="208.2" y1="547.7" x2="209.7" y2="547.7" stroke="#555" stroke-width="0.8"/>
<text class="m" transform="translate(211 551.34) scale(1 1.12)">8</text>
<line x1="208.2" y1="580.3" x2="209.7" y2="580.3" stroke="#555" stroke-width="0.8"/>
<text class="m" transform="translate(211 583.94) scale(1 1.12)">6</text>
<line x1="208.2" y1="614.3" x2="209.7" y2="614.3" stroke="#555" stroke-width="0.8"/>
<text class="m" transform="translate(211 617.94) scale(1 1.12)">4</text>
<line x1="208.2" y1="647.7" x2="209.7" y2="647.7" stroke="#555" stroke-width="0.8"/>
<text class="m" transform="translate(211 651.34) scale(1 1.12)">2</text>
<line x1="208.2" y1="680.3" x2="209.7" y2="680.3" stroke="#555" stroke-width="0.8"/>
<text class="m" transform="translate(211 683.94) scale(1 1.12)">0</text>
<path d="M58.1 554.1V558.7M56.11 555.25L60.09 557.55M56.11 557.55L60.09 555.25M64.5 554.1V558.7M62.51 555.25L66.49 557.55M62.51 557.55L66.49 555.25M70.9 554.1V558.7M68.91 555.25L72.89 557.55M68.91 557.55L72.89 555.25" stroke="#444" stroke-width="1" stroke-linecap="round" fill="none"/>
<path d="M149.1 555.3V559.9M147.11 556.45L151.09 558.75M147.11 558.75L151.09 556.45M155.5 555.3V559.9M153.51 556.45L157.49 558.75M153.51 558.75L157.49 556.45M161.9 555.3V559.9M159.91 556.45L163.89 558.75M159.91 558.75L163.89 556.45" stroke="#444" stroke-width="1" stroke-linecap="round" fill="none"/>
<text class="x" transform="translate(69.2 696.6) scale(1 1)" text-anchor="middle">Shoot</text>
<text class="xm" transform="translate(160.3 696.6) scale(1 1.2)" text-anchor="middle">Root</text>
</g>
<g>
<text class="h" transform="translate(345.2 543.7) scale(1 1.1)" text-anchor="middle">JA</text>
<rect x="276" y="566.7" width="16" height="115" fill="#11319a" stroke="#1a1a1a" stroke-width="0.5"/>
<rect x="302.7" y="668.3" width="16" height="13.4" fill="#a5000e" stroke="#1a1a1a" stroke-width="0.5"/>
<rect x="365.3" y="562.3" width="16" height="119.4" fill="#11319a" stroke="#1a1a1a" stroke-width="0.5"/>
<rect x="392.3" y="601" width="16" height="80.7" fill="#a5000e" stroke="#1a1a1a" stroke-width="0.5"/>
<path d="M284.3 564.3V569.3M283.3 564.3H285.3M283.3 569.3H285.3" stroke="#222" stroke-width="0.8" fill="none"/>
<path d="M311 667.3V669.3M310 667.3H312M310 669.3H312" stroke="#222" stroke-width="0.8" fill="none"/>
<path d="M373.6 560.3V564.7M372.6 560.3H374.6M372.6 564.7H374.6" stroke="#222" stroke-width="0.8" fill="none"/>
<path d="M400.6 594.3V608M399.6 594.3H401.6M399.6 608H401.6" stroke="#222" stroke-width="0.8" fill="none"/>
<line x1="343.7" y1="548.6" x2="343.7" y2="681.7" stroke="#3a3a3a" stroke-width="1.1" stroke-dasharray="5.7 6.3" stroke-dashoffset="2.4"/>
<path d="M250.8 548.6H434.4" stroke="#404040" stroke-width="1" fill="none"/>
<path d="M250.8 681.7H434.4" stroke="#303030" stroke-width="1" fill="none"/>
<path d="M251.3 548.6V681.7" stroke="#606060" stroke-width="1" fill="none"/>
<path d="M433.9 548.6V681.7" stroke="#8a8a8a" stroke-width="1" fill="none"/>
<line x1="249.3" y1="548.3" x2="251.3" y2="548.3" stroke="#3a3a3a" stroke-width="0.8"/>
<text class="t" transform="translate(248.5 551.94) scale(1 1.12)" text-anchor="end">45</text>
<line x1="249.3" y1="575" x2="251.3" y2="575" stroke="#3a3a3a" stroke-width="0.8"/>
<text class="t" transform="translate(248.5 578.64) scale(1 1.12)" text-anchor="end">36</text>
<line x1="249.3" y1="601.7" x2="251.3" y2="601.7" stroke="#3a3a3a" stroke-width="0.8"/>
<text class="t" transform="translate(248.5 605.34) scale(1 1.12)" text-anchor="end">27</text>
<line x1="249.3" y1="628.3" x2="251.3" y2="628.3" stroke="#3a3a3a" stroke-width="0.8"/>
<text class="t" transform="translate(248.5 631.94) scale(1 1.12)" text-anchor="end">18</text>
<line x1="249.3" y1="654.7" x2="251.3" y2="654.7" stroke="#3a3a3a" stroke-width="0.8"/>
<text class="t" transform="translate(248.5 658.34) scale(1 1.12)" text-anchor="end">9</text>
<line x1="249.3" y1="681.7" x2="251.3" y2="681.7" stroke="#3a3a3a" stroke-width="0.8"/>
<text class="t" transform="translate(248.5 685.34) scale(1 1.12)" text-anchor="end">0</text>
<line x1="433.9" y1="547.7" x2="435.4" y2="547.7" stroke="#555" stroke-width="0.8"/>
<text class="m" transform="translate(436.7 551.34) scale(1 1.12)">25</text>
<line x1="433.9" y1="574" x2="435.4" y2="574" stroke="#555" stroke-width="0.8"/>
<text class="m" transform="translate(436.7 577.64) scale(1 1.12)">20</text>
<line x1="433.9" y1="601" x2="435.4" y2="601" stroke="#555" stroke-width="0.8"/>
<text class="m" transform="translate(436.7 604.64) scale(1 1.12)">15</text>
<line x1="433.9" y1="627" x2="435.4" y2="627" stroke="#555" stroke-width="0.8"/>
<text class="m" transform="translate(436.7 630.64) scale(1 1.12)">10</text>
<line x1="433.9" y1="654" x2="435.4" y2="654" stroke="#555" stroke-width="0.8"/>
<text class="m" transform="translate(436.7 657.64) scale(1 1.12)">5</text>
<line x1="433.9" y1="680.3" x2="435.4" y2="680.3" stroke="#555" stroke-width="0.8"/>
<text class="m" transform="translate(436.7 683.94) scale(1 1.12)">0</text>
<path d="M291.6 555.2V559.8M289.61 556.35L293.59 558.65M289.61 558.65L293.59 556.35M298 555.2V559.8M296.01 556.35L299.99 558.65M296.01 558.65L299.99 556.35M304.4 555.2V559.8M302.41 556.35L306.39 558.65M302.41 558.65L306.39 556.35" stroke="#444" stroke-width="1" stroke-linecap="round" fill="none"/>
<path d="M386.5 555.6V560.2M384.51 556.75L388.49 559.05M384.51 559.05L388.49 556.75M392.9 555.6V560.2M390.91 556.75L394.89 559.05M390.91 559.05L394.89 556.75" stroke="#444" stroke-width="1" stroke-linecap="round" fill="none"/>
<text class="x" transform="translate(294.3 696.6) scale(1 1)" text-anchor="middle">Shoot</text>
<text class="xm" transform="translate(385.8 696.6) scale(1 1.2)" text-anchor="middle">Root</text>
</g>
<g>
<text class="h" transform="translate(578.8 543.7) scale(1 1.1)" text-anchor="middle">SA</text>
<rect x="510.3" y="572.3" width="16" height="110" fill="#11319a" stroke="#1a1a1a" stroke-width="0.5"/>
<rect x="537" y="629.3" width="16" height="53" fill="#a5000e" stroke="#1a1a1a" stroke-width="0.5"/>
<rect x="601.3" y="570.7" width="16" height="111.6" fill="#11319a" stroke="#1a1a1a" stroke-width="0.5"/>
<rect x="628" y="569" width="16" height="113.3" fill="#a5000e" stroke="#1a1a1a" stroke-width="0.5"/>
<path d="M518.6 570.7V573.7M517.6 570.7H519.6M517.6 573.7H519.6" stroke="#222" stroke-width="0.8" fill="none"/>
<path d="M545.3 628.7V630M544.3 628.7H546.3M544.3 630H546.3" stroke="#222" stroke-width="0.8" fill="none"/>
<path d="M609.6 568.3V573.3M608.6 568.3H610.6M608.6 573.3H610.6" stroke="#222" stroke-width="0.8" fill="none"/>
<path d="M636.3 567.7V570.3M635.3 567.7H637.3M635.3 570.3H637.3" stroke="#222" stroke-width="0.8" fill="none"/>
<line x1="577.6" y1="549.4" x2="577.6" y2="682.3" stroke="#3a3a3a" stroke-width="1.1" stroke-dasharray="5.7 6.3" stroke-dashoffset="2.4"/>
<path d="M485.9 549.4H668.5" stroke="#404040" stroke-width="1" fill="none"/>
<path d="M485.9 682.3H668.5" stroke="#303030" stroke-width="1" fill="none"/>
<path d="M486.4 549.4V682.3" stroke="#606060" stroke-width="1" fill="none"/>
<path d="M668 549.4V682.3" stroke="#8a8a8a" stroke-width="1" fill="none"/>
<line x1="484.4" y1="549.7" x2="486.4" y2="549.7" stroke="#3a3a3a" stroke-width="0.8"/>
<text class="t" transform="translate(482 553.34) scale(1 1.12)" text-anchor="end">5000</text>
<line x1="484.4" y1="576.3" x2="486.4" y2="576.3" stroke="#3a3a3a" stroke-width="0.8"/>
<text class="t" transform="translate(482 579.94) scale(1 1.12)" text-anchor="end">4000</text>
<line x1="484.4" y1="602.7" x2="486.4" y2="602.7" stroke="#3a3a3a" stroke-width="0.8"/>
<text class="t" transform="translate(482 606.34) scale(1 1.12)" text-anchor="end">3000</text>
<line x1="484.4" y1="629.3" x2="486.4" y2="629.3" stroke="#3a3a3a" stroke-width="0.8"/>
<text class="t" transform="translate(482 632.94) scale(1 1.12)" text-anchor="end">2000</text>
<line x1="484.4" y1="655.7" x2="486.4" y2="655.7" stroke="#3a3a3a" stroke-width="0.8"/>
<text class="t" transform="translate(482 659.34) scale(1 1.12)" text-anchor="end">1000</text>
<line x1="484.4" y1="682.3" x2="486.4" y2="682.3" stroke="#3a3a3a" stroke-width="0.8"/>
<text class="t" transform="translate(482 685.94) scale(1 1.12)" text-anchor="end">0</text>
<line x1="668" y1="549.7" x2="669.5" y2="549.7" stroke="#555" stroke-width="0.8"/>
<text class="m" transform="translate(670.8 553.34) scale(1 1.12)">50</text>
<line x1="668" y1="577" x2="669.5" y2="577" stroke="#555" stroke-width="0.8"/>
<text class="m" transform="translate(670.8 580.64) scale(1 1.12)">40</text>
<line x1="668" y1="603" x2="669.5" y2="603" stroke="#555" stroke-width="0.8"/>
<text class="m" transform="translate(670.8 606.64) scale(1 1.12)">30</text>
<line x1="668" y1="629.7" x2="669.5" y2="629.7" stroke="#555" stroke-width="0.8"/>
<text class="m" transform="translate(670.8 633.34) scale(1 1.12)">20</text>
<line x1="668" y1="656.3" x2="669.5" y2="656.3" stroke="#555" stroke-width="0.8"/>
<text class="m" transform="translate(670.8 659.94) scale(1 1.12)">10</text>
<line x1="668" y1="682" x2="669.5" y2="682" stroke="#555" stroke-width="0.8"/>
<text class="m" transform="translate(670.8 685.64) scale(1 1.12)">0</text>
<path d="M529.7 558.1V562.7M527.71 559.25L531.69 561.55M527.71 561.55L531.69 559.25M536.1 558.1V562.7M534.11 559.25L538.09 561.55M534.11 561.55L538.09 559.25M542.5 558.1V562.7M540.51 559.25L544.49 561.55M540.51 561.55L544.49 559.25" stroke="#444" stroke-width="1" stroke-linecap="round" fill="none"/>
<text class="x" transform="translate(529.7 696.6) scale(1 1)" text-anchor="middle">Shoot</text>
<text class="xm" transform="translate(620.7 696.6) scale(1 1.2)" text-anchor="middle">Root</text>
</g>
</svg>
</body></html>
